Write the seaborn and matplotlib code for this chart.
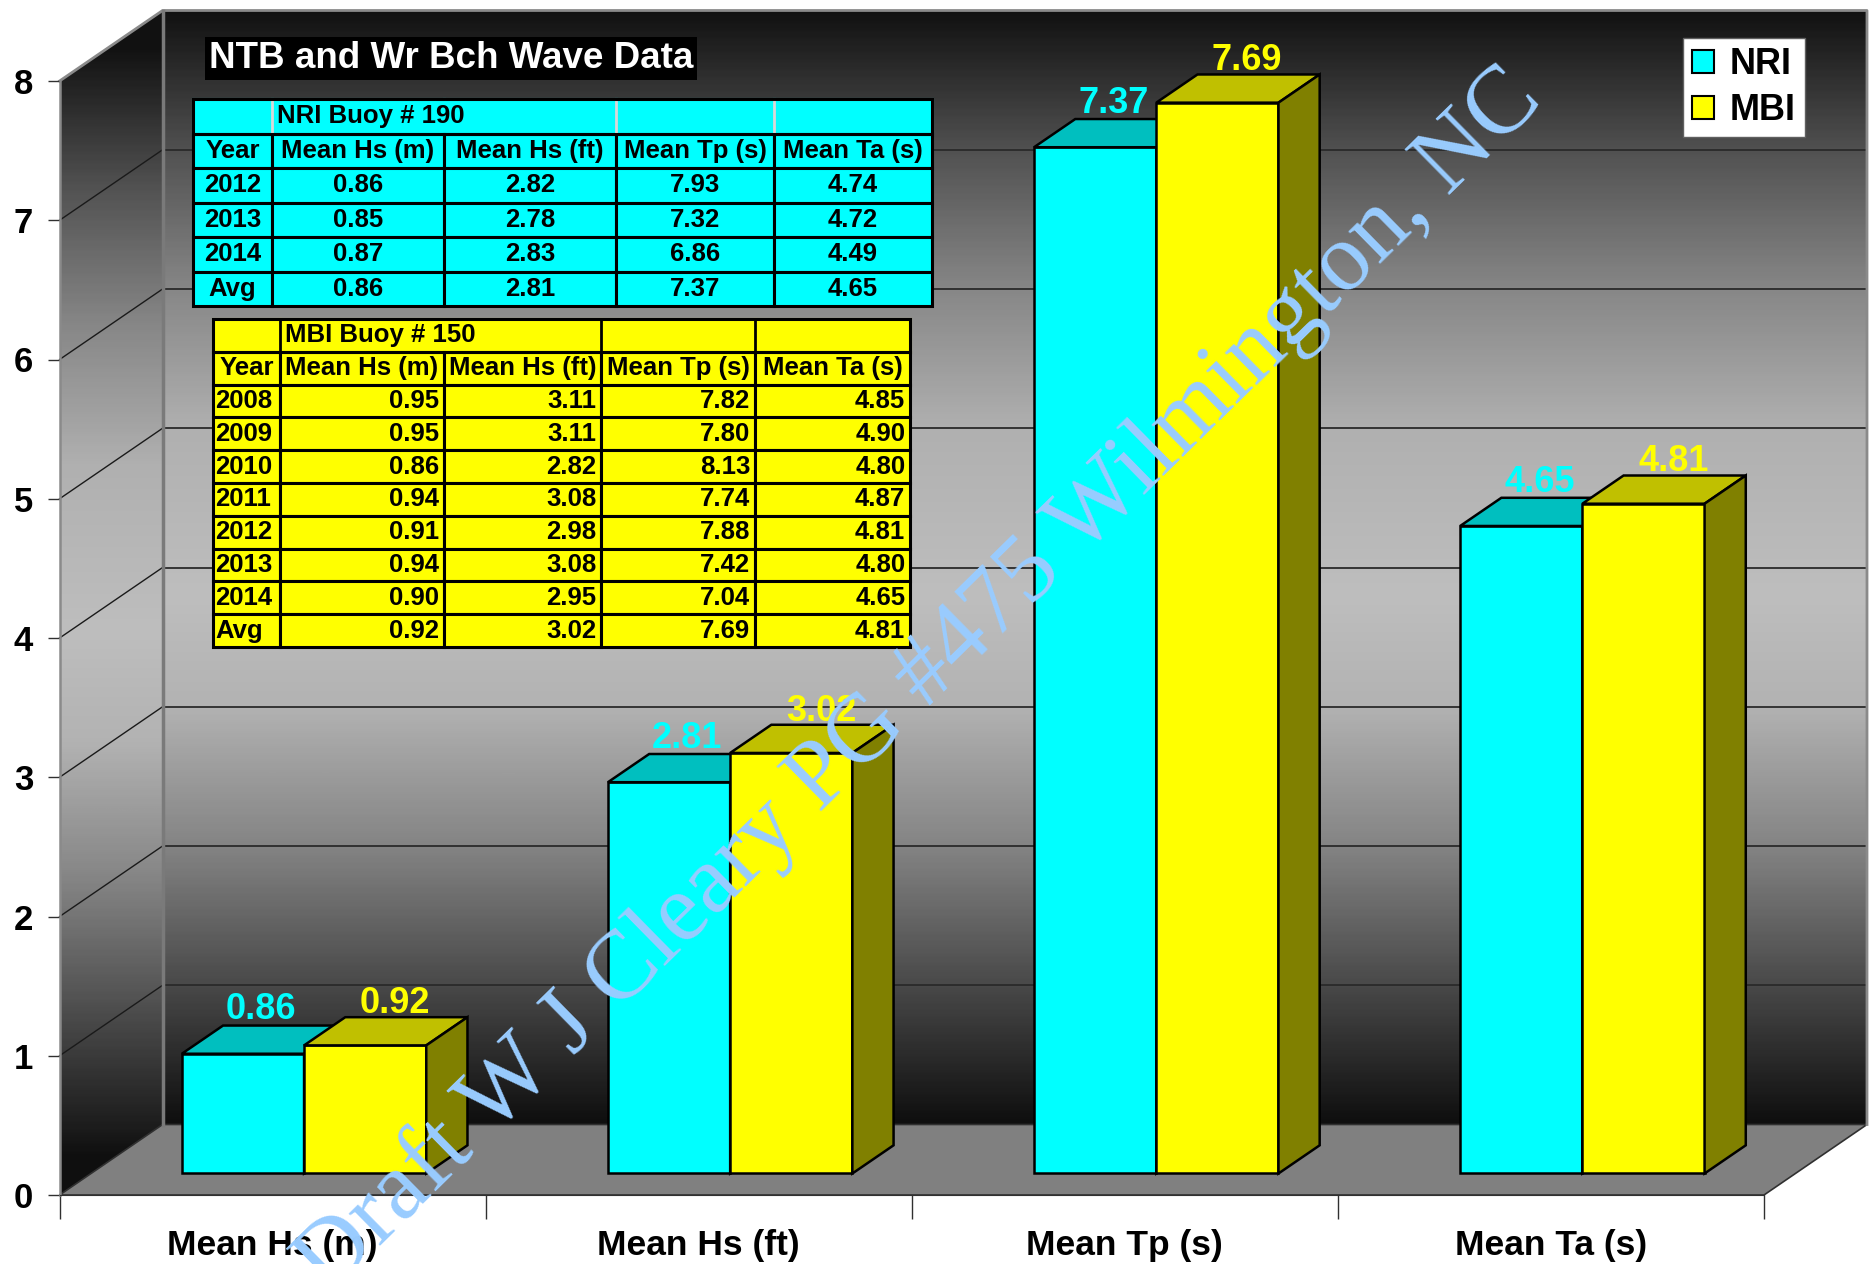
import numpy as np
import pandas as pd
import seaborn as sns
import matplotlib.pyplot as plt
from matplotlib.colors import LinearSegmentedColormap
from matplotlib.patches import Polygon, Patch
from matplotlib.table import Table

plt.rcParams['font.family'] = ['Liberation Sans', 'DejaVu Sans']

# chart data
categories = ['Mean Hs (m)', 'Mean Hs (ft)', 'Mean Tp (s)', 'Mean Ta (s)']
series = ['NRI', 'MBI']
nri_avg = [0.86, 2.81, 7.37, 4.65]
mbi_avg = [0.92, 3.02, 7.69, 4.81]
yticks = [0, 1, 2, 3, 4, 5, 6, 7, 8]

# table data
table_cols = ['Year', 'Mean Hs (m)', 'Mean Hs (ft)', 'Mean Tp (s)', 'Mean Ta (s)']
nri_years = ['2012', '2013', '2014', 'Avg']
nri_hs_m = [0.86, 0.85, 0.87, 0.86]
nri_hs_ft = [2.82, 2.78, 2.83, 2.81]
nri_tp = [7.93, 7.32, 6.86, 7.37]
nri_ta = [4.74, 4.72, 4.49, 4.65]
mbi_years = ['2008', '2009', '2010', '2011', '2012', '2013', '2014', 'Avg']
mbi_hs_m = [0.95, 0.95, 0.86, 0.94, 0.91, 0.94, 0.90, 0.92]
mbi_hs_ft = [3.11, 3.11, 2.82, 3.08, 2.98, 3.08, 2.95, 3.02]
mbi_tp = [7.82, 7.80, 8.13, 7.74, 7.88, 7.42, 7.04, 7.69]
mbi_ta = [4.85, 4.90, 4.80, 4.87, 4.81, 4.80, 4.65, 4.81]

colors = {'NRI': '#00FFFF', 'MBI': '#FFFF00'}
top_colors = {'NRI': '#00BFBF', 'MBI': '#C0C000'}
side_colors = {'NRI': '#008080', 'MBI': '#808000'}

W, H = 1869, 1264
# front plane in pixels
X0, CAT = 59.6, 426.1
Y0, UNIT = 1195.0, 139.25
DX, DY = 103.0 / CAT, 70.5 / UNIT   # full depth offset in data units

fig = plt.figure(figsize=(W / 100, H / 100), dpi=100)
ax = fig.add_axes([0, 0, 1, 1])

# walls with gradient
stops = [(0, 0.06), (1, 0.29), (2, 0.52), (3, 0.70), (3.8, 0.745),
         (5, 0.69), (6, 0.53), (7, 0.32), (8, 0.07)]
cmap = LinearSegmentedColormap.from_list(
    'wall', [(v / 8, (g, g, g)) for v, g in stops])
grad = np.linspace(8, 0, 400).reshape(-1, 1)
ax.imshow(grad, cmap=cmap, vmin=0, vmax=8, aspect='auto', zorder=0.5,
          extent=[-0.5 + DX, 3.5 + DX, DY, 8 + DY], interpolation='bilinear')
lw_grad = np.clip(np.linspace(8 + DY, 0, 400) - 0.25, 0, 8).reshape(-1, 1)
im = ax.imshow(lw_grad, cmap=cmap, vmin=0, vmax=8, aspect='auto', zorder=0.5,
               extent=[-0.5, -0.5 + DX, 0, 8 + DY], interpolation='bilinear')
left_wall = Polygon([(-0.5, 0), (-0.5 + DX, DY), (-0.5 + DX, 8 + DY), (-0.5, 8)],
                    closed=True, transform=ax.transData)
im.set_clip_path(left_wall)
im.set_clip_box(None)

# wall borders
ax.plot([-0.5, -0.5 + DX, 3.5 + DX, 3.5 + DX], [8, 8 + DY, 8 + DY, DY],
        color='#8a8a8a', lw=2, zorder=1.3, clip_on=False)
ax.plot([-0.5 + DX, -0.5 + DX], [DY, 8 + DY], color='#7a7a7a', lw=2.5, zorder=1.3)

# floor
ax.add_patch(Polygon([(-0.5, 0), (3.5, 0), (3.5 + DX, DY), (-0.5 + DX, DY)],
                     closed=True, facecolor='#808080', edgecolor='#303030',
                     lw=1.2, zorder=1))

# gridlines on back wall and left wall
for v in yticks[1:-1]:
    ax.plot([-0.5 + DX, 3.5 + DX], [v + DY, v + DY], color='#2a2a2a', lw=1.3, zorder=1.2)
    ax.plot([-0.5, -0.5 + DX], [v, v + DY], color='#1a1a1a', lw=1.0, zorder=1.2)

# bars
bars = pd.DataFrame({
    'metric': categories * 2,
    'value': nri_avg + mbi_avg,
    'buoy': ['NRI'] * 4 + ['MBI'] * 4,
})
sns.barplot(data=bars, x='metric', y='value', hue='buoy', order=categories,
            hue_order=series, palette=colors, width=0.5736, saturation=1,
            errorbar=None, edgecolor='black', linewidth=1.8, legend=False, ax=ax)

front_d, depth_d = 0.305, 0.40
fdx, fdy = front_d * DX, front_d * DY
ddx, ddy = depth_d * DX, depth_d * DY
label_dx = {'NRI': 0.043, 'MBI': 0.07}
label_lift = {'NRI': 0.045, 'MBI': 0.03}
for k, (name, cont) in enumerate(zip(series, ax.containers)):
    z = 3 + k
    for p in cont.patches:
        p.set_x(p.get_x() + fdx)
        p.set_y(fdy)
        p.set_zorder(z)
        x0, x1 = p.get_x(), p.get_x() + p.get_width()
        y0, y1 = fdy, fdy + p.get_height()
        ax.add_patch(Polygon([(x0, y1), (x1, y1), (x1 + ddx, y1 + ddy), (x0 + ddx, y1 + ddy)],
                             closed=True, facecolor=top_colors[name], edgecolor='black',
                             lw=1.8, zorder=z, joinstyle='miter'))
        ax.add_patch(Polygon([(x1, y0), (x1 + ddx, y0 + ddy), (x1 + ddx, y1 + ddy), (x1, y1)],
                             closed=True, facecolor=side_colors[name], edgecolor='black',
                             lw=1.8, zorder=z, joinstyle='miter'))
        ax.text((x0 + x1) / 2 + label_dx[name], y1 + ddy + label_lift[name],
                f'{p.get_height():.2f}', ha='center', va='baseline',
                color=colors[name], fontsize=26, fontweight='bold', zorder=9)

# axes styling
ax.set_facecolor('white')
for s in ['top', 'right']:
    ax.spines[s].set_visible(False)
ax.spines['left'].set_position(('data', -0.5))
ax.spines['left'].set_bounds(0, 8)
ax.spines['left'].set_color('#8a8a8a')
ax.spines['left'].set_linewidth(1.8)
ax.spines['bottom'].set_position(('data', 0))
ax.spines['bottom'].set_bounds(-0.5, 3.5)
ax.spines['bottom'].set_color('#303030')
ax.spines['left'].set_zorder(2)
ax.spines['bottom'].set_zorder(2)

ax.set_yticks(yticks)
ax.set_yticklabels([str(v) for v in yticks], fontsize=25, fontweight='bold')
ax.tick_params(axis='y', length=9, width=1, color='#303030', pad=10)
ax.set_xticks(range(len(categories)))
ax.set_xticklabels(categories, fontsize=25.5, fontweight='bold')
ax.set_xticks(np.arange(-0.5, len(categories)), minor=True)
ax.tick_params(axis='x', which='major', length=0, pad=24.5)
ax.tick_params(axis='x', which='minor', length=17, width=1, color='#303030')
ax.set_xlabel('')
ax.set_ylabel('')
ax.set_xlim(-0.5 - X0 / CAT, -0.5 + (W - X0) / CAT)
ax.set_ylim(-(H - Y0) / UNIT, Y0 / UNIT)


# tables
def make_table(bbox_px, col_px, title, years, cols, face, sep_color, num_loc, year_loc):
    x0, y0, x1, y1 = bbox_px
    tb = Table(ax, bbox=[x0 / W, 1 - y1 / H, (x1 - x0) / W, (y1 - y0) / H])
    nrows = len(years) + 2
    widths = np.array(col_px) / sum(col_px)
    rows = [['', '', '', '', ''], table_cols]
    for i, yr in enumerate(years):
        rows.append([yr] + [f'{c[i]:.2f}' for c in cols])
    for r, row in enumerate(rows):
        for c, txt in enumerate(row):
            if r <= 1:
                loc = 'center'
            elif c == 0:
                loc = year_loc
            else:
                loc = num_loc
            cell = tb.add_cell(r, c, width=widths[c], height=1 / nrows, text=txt,
                               loc=loc, facecolor=face,
                               edgecolor=face if r == 0 else 'black')
            cell.PAD = 0.03
            cell.set_linewidth(2.2)
            cell.get_text().set_fontsize(18.5)
            cell.get_text().set_fontweight('bold')
    tb.auto_set_font_size(False)
    tb.set_zorder(6)
    ax.add_table(tb)
    # title row: columns 1-2 merged, with its own separators and outline
    row_h = (y1 - y0) / nrows
    edges = x0 + np.cumsum(col_px)
    for xe in [edges[0], edges[2], edges[3]]:
        ax.plot([xe / W, xe / W], [1 - y0 / H, 1 - (y0 + row_h) / H],
                transform=ax.transAxes, color=sep_color, lw=2, zorder=6.4)
    ax.add_patch(plt.Rectangle((x0 / W, 1 - (y0 + row_h) / H), (x1 - x0) / W,
                               row_h / H, transform=ax.transAxes,
                               fill=False, edgecolor='black', lw=2.2, zorder=6.5))
    ax.text((edges[0] + 5) / W, 1 - (y0 + row_h / 2) / H, title, transform=ax.transAxes,
            ha='left', va='center', fontsize=18.5, fontweight='bold', zorder=6.6)


make_table((193, 99, 932, 306), [79, 172, 172, 158, 158], 'NRI Buoy # 190',
           nri_years, [nri_hs_m, nri_hs_ft, nri_tp, nri_ta], '#00FFFF', '#d8d8d8',
           'center', 'center')
make_table((213, 319, 910, 647), [67, 164, 157, 154, 155], 'MBI Buoy # 150',
           mbi_years, [mbi_hs_m, mbi_hs_ft, mbi_tp, mbi_ta], '#FFFF00', 'black',
           'right', 'left')

# title box
ax.text(209 / W, 1 - 58.5 / H, 'NTB and Wr Bch Wave Data', transform=ax.transAxes,
        ha='left', va='center', color='white', fontsize=26.5, fontweight='bold',
        zorder=7, bbox=dict(boxstyle='square,pad=0.1', facecolor='black', edgecolor='none'))

# legend
handles = [Patch(facecolor=colors[s], edgecolor='black', lw=1.5) for s in series]
leg = ax.legend(handles, series, loc='upper left', bbox_to_anchor=(1683 / W, 1 - 38 / H),
                bbox_transform=ax.transAxes, borderaxespad=0, frameon=True,
                fancybox=False, facecolor='white', edgecolor='#606060', framealpha=1,
                prop={'weight': 'bold', 'size': 26}, handlelength=0.6,
                handleheight=0.6, handletextpad=0.45, labelspacing=0.3, borderpad=0.25)
leg.set_zorder(8)

# watermark
ax.text(920 / W, 1 - 682 / H, 'Draft W J Cleary PG #475 Wilmington, NC',
        transform=ax.transAxes, ha='center', va='center', rotation=44.5,
        rotation_mode='anchor', fontsize=70, color='#99CCFF',
        family=['Liberation Serif', 'DejaVu Serif'], zorder=10)

fig.savefig('out.png', dpi=100)
